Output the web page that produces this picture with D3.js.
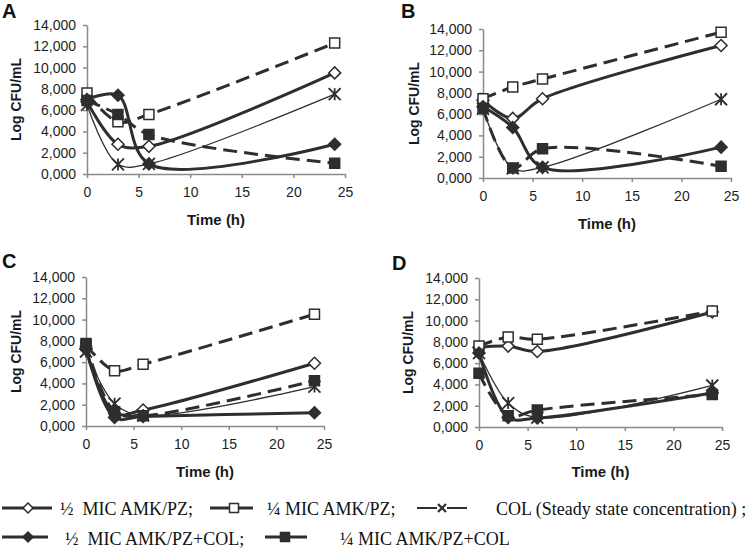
<!DOCTYPE html>
<meta charset="utf-8">
<script src="https://cdnjs.cloudflare.com/ajax/libs/d3/7.8.5/d3.min.js"></script>
<style>
  body { margin: 0; background: #fff; }
  text { white-space: pre; }
</style>
<div id="vis"></div>
<script>

// sampling times and axis ticks
var hours = [0, 3, 6, 24];
var xTicks = [0, 5, 10, 15, 20, 25];
var yTicks = [0, 2, 4, 6, 8, 10, 12, 14];

// legend labels (same order as the series below)
var seriesLabels = ["½  MIC AMK/PZ;", "¼ MIC AMK/PZ;", "COL (Steady state concentration) ;",
                    "½  MIC AMK/PZ+COL;", "¼ MIC AMK/PZ+COL"];

// panel A  (Log CFU/mL, thousands)
var aHalf       = [6.8, 2.8, 2.6, 9.5];
var aQuarter    = [7.6, 4.9, 5.6, 12.3];
var aCol        = [6.5, 0.9, 0.95, 7.5];
var aHalfCol    = [7.0, 7.4, 0.95, 2.8];
var aQuarterCol = [6.9, 5.6, 3.7, 1.0];

// panel B
var bHalf       = [7.3, 5.6, 7.45, 12.45];
var bQuarter    = [7.45, 8.55, 9.3, 13.7];
var bCol        = [6.5, 0.9, 1.0, 7.4];
var bHalfCol    = [6.7, 4.75, 1.0, 2.9];
var bQuarterCol = [6.55, 0.95, 2.75, 1.1];

// panel C
var cHalf       = [7.2, 1.2, 1.5, 5.9];
var cQuarter    = [7.6, 5.2, 5.8, 10.5];
var cCol        = [7.0, 2.1, 1.0, 3.7];
var cHalfCol    = [7.3, 0.8, 0.9, 1.25];
var cQuarterCol = [7.75, 1.35, 0.97, 4.25];

// panel D
var dHalf       = [7.5, 7.6, 7.1, 10.8];
var dQuarter    = [7.6, 8.45, 8.25, 10.9];
var dCol        = [6.95, 2.25, 0.88, 3.9];
var dHalfCol    = [6.95, 0.9, 0.85, 3.2];
var dQuarterCol = [5.05, 1.05, 1.6, 3.05];

var ink = "#2e2e2e";

// one style per series
var styles = [
  {shape: "diamond", fill: "#fff", dash: null,   width: 3},
  {shape: "square",  fill: "#fff", dash: "14,7", width: 3},
  {shape: "star",    fill: "none", dash: null,   width: 1.3},
  {shape: "diamond", fill: ink,    dash: null,   width: 3},
  {shape: "square",  fill: ink,    dash: "14,7", width: 3}
];

// where each small chart sits
var panels = [
  {id: "A", series: [aHalf, aQuarter, aCol, aHalfCol, aQuarterCol],
   left: 87, right: 345, top: 25, bottom: 174, lx: 2, ly: 18, yl: 16, tl: 225},
  {id: "B", series: [bHalf, bQuarter, bCol, bHalfCol, bQuarterCol],
   left: 483, right: 731, top: 29, bottom: 178, lx: 401, ly: 18, yl: 414, tl: 229},
  {id: "C", series: [cHalf, cQuarter, cCol, cHalfCol, cQuarterCol],
   left: 86, right: 324, top: 277, bottom: 426, lx: 2, ly: 268, yl: 16, tl: 477},
  {id: "D", series: [dHalf, dQuarter, dCol, dHalfCol, dQuarterCol],
   left: 479, right: 722, top: 278, bottom: 427, lx: 392, ly: 270, yl: 408, tl: 477}
];

var svg = d3.select("#vis")
  .append("svg")
    .attr("width", 750)
    .attr("height", 552);

var fmt = function(d) { return d3.format(".3f")(d).replace(".", ","); };

function markerPath(shape, r) {
  if (shape == "diamond") return "M0," + (-r) + "L" + r + ",0L0," + r + "L" + (-r) + ",0Z";
  if (shape == "square") return "M" + (-r) + "," + (-r) + "h" + 2 * r + "v" + 2 * r + "h" + (-2 * r) + "Z";
  if (shape == "star") return "M" + (-r) + "," + (-r) + "L" + r + "," + r + "M" + (-r) + "," + r + "L" + r + "," + (-r) + "M0," + (-r) + "L0," + r;
  return "M" + (-r) + "," + (-r) + "L" + r + "," + r + "M" + (-r) + "," + r + "L" + r + "," + (-r);
}

function markerSize(shape) {
  return shape == "diamond" ? 6 : shape == "square" ? 5 : 6;
}

panels.forEach(function(p) {
  var x = d3.scaleLinear().domain([0, 25]).range([p.left, p.right]);
  var y = d3.scaleLinear().domain([0, 14]).range([p.bottom, p.top]);

  var g = svg.append("g");

  // axes
  var yAxis = g.append("g")
    .attr("transform", "translate(" + p.left + ",0)")
    .call(d3.axisLeft(y).tickValues(yTicks).tickFormat(fmt).tickSize(4).tickSizeOuter(0).tickPadding(7));
  var xAxis = g.append("g")
    .attr("transform", "translate(0," + p.bottom + ")")
    .call(d3.axisBottom(x).tickValues(xTicks).tickSize(4).tickSizeOuter(0).tickPadding(9));
  [yAxis, xAxis].forEach(function(a) {
    a.select(".domain").attr("stroke", "#8a8a8a").attr("stroke-width", 1.5);
    a.selectAll(".tick line").attr("stroke", "#8a8a8a").attr("stroke-width", 1.5);
    a.selectAll(".tick text")
      .attr("fill", "#1e1e1e")
      .style("font-family", "'Liberation Sans', Arial, sans-serif")
      .style("font-size", "14px");
  });

  // labels
  g.append("text")
    .attr("x", p.lx).attr("y", p.ly)
    .style("font-family", "'Liberation Sans', Arial, sans-serif")
    .style("font-size", "20px").style("font-weight", "bold")
    .attr("fill", "#111")
    .text(p.id);

  g.append("text")
    .attr("transform", "translate(" + p.yl + "," + (p.top + p.bottom) / 2 + ") rotate(-90)")
    .attr("dy", "0.35em")
    .style("text-anchor", "middle")
    .style("font-family", "'Liberation Sans', Arial, sans-serif")
    .style("font-size", "14px").style("font-weight", "bold")
    .attr("fill", "#1a1a1a")
    .text("Log CFU/mL");

  g.append("text")
    .attr("x", (p.left + p.right) / 2).attr("y", p.tl)
    .style("text-anchor", "middle")
    .style("font-family", "'Liberation Sans', Arial, sans-serif")
    .style("font-size", "15px").style("font-weight", "bold")
    .attr("fill", "#1a1a1a")
    .text("Time (h)");

  // smoothed lines, then markers
  var line = d3.line()
    .x(function(d, i) { return x(hours[i]); })
    .y(function(d) { return y(d); })
    .curve(d3.curveCatmullRom.alpha(0.5));

  p.series.forEach(function(vals, k) {
    var s = styles[k];
    g.append("path")
      .datum(vals)
      .attr("d", line)
      .attr("fill", "none")
      .attr("stroke", ink)
      .attr("stroke-width", s.width)
      .attr("stroke-dasharray", s.dash);

    g.append("g")
      .selectAll("path")
      .data(vals)
      .enter()
      .append("path")
        .attr("transform", function(d, i) { return "translate(" + x(hours[i]) + "," + y(d) + ")"; })
        .attr("d", markerPath(s.shape, markerSize(s.shape)))
        .attr("fill", s.fill)
        .attr("stroke", ink)
        .attr("stroke-width", s.shape == "star" ? 1.8 : 1.5);
  });
});

// legend
var legendItems = [
  {k: 0, x0: 2,   x1: 52,  mx: 28,  tx: 60,  ly: 508, ty: 515},
  {k: 1, x0: 210, x1: 253, mx: 234, tx: 267, ly: 508, ty: 515},
  {k: 2, x0: 417, x1: 467, mx: 442, tx: 496, ly: 508, ty: 515},
  {k: 3, x0: 2,   x1: 48,  mx: 28,  tx: 65,  ly: 537, ty: 545},
  {k: 4, x0: 265, x1: 307, mx: 285, tx: 340, ly: 537, ty: 545}
];

var legend = svg.append("g");
legendItems.forEach(function(it) {
  var s = styles[it.k];
  legend.append("line")
    .attr("x1", it.x0).attr("x2", it.x1)
    .attr("y1", it.ly).attr("y2", it.ly)
    .attr("stroke", ink)
    .attr("stroke-width", s.shape == "star" ? 2.2 : 3);
  if (s.shape == "star") {
    legend.append("line")
      .attr("x1", it.mx - 5).attr("x2", it.mx + 5)
      .attr("y1", it.ly).attr("y2", it.ly)
      .attr("stroke", "#fff").attr("stroke-width", 4);
  }
  legend.append("path")
    .attr("transform", "translate(" + it.mx + "," + it.ly + ")")
    .attr("d", s.shape == "star" ? markerPath("x", 4) : markerPath(s.shape, s.shape == "diamond" ? 5 : 4.5))
    .attr("fill", s.fill)
    .attr("stroke", ink)
    .attr("stroke-width", s.shape == "star" ? 2.2 : 1.5);
  legend.append("text")
    .attr("x", it.tx).attr("y", it.ty)
    .style("font-family", "'Liberation Serif', 'Times New Roman', serif")
    .style("font-size", "18px")
    .attr("fill", "#111")
    .text(seriesLabels[it.k]);
});

</script>
